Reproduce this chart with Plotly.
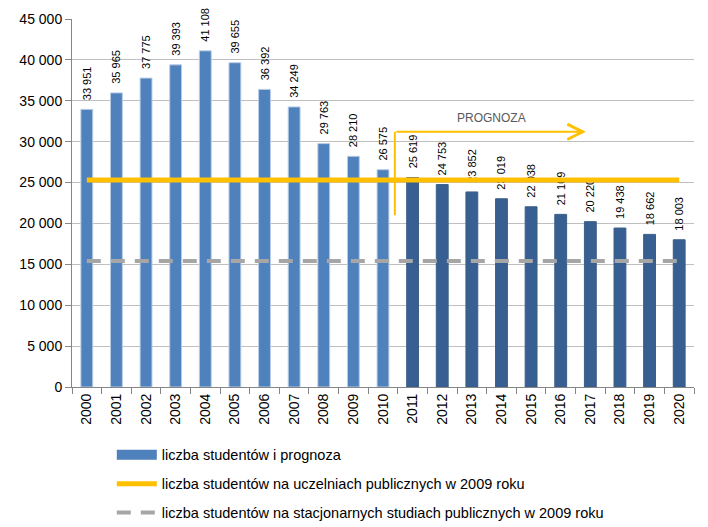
import plotly.graph_objects as go

years = [str(y) for y in range(2000, 2021)]
students = [33951, 35965, 37775, 39393, 41108, 39655, 36392, 34249, 29763, 28210,
            26575, 25619, 24753, 23852, 23019, 22038, 21109, 20220, 19438, 18662, 18003]
is_forecast = [False] * 11 + [True] * 10
public_2009 = [25300] * 21
fulltime_public_2009 = [15400] * 21

y_ticks = [0, 5000, 10000, 15000, 20000, 25000, 30000, 35000, 40000, 45000]

name_bars = "liczba studentów i prognoza"
name_public = "liczba studentów na uczelniach publicznych w 2009 roku"
name_fulltime = "liczba studentów na stacjonarnych studiach publicznych w 2009 roku"
forecast_label = "PROGNOZA"

LIGHT = "#4F81BD"
DARK = "#375F91"
NBSP = "\u00a0"

def fmt(v):
    return f"{v:,}".replace(",", " ")

bar_colors = [DARK if f else LIGHT for f in is_forecast]
bar_line = ["#3B5E88" if f else "#B9CDE5" for f in is_forecast]

fig = go.Figure()
fig.add_trace(go.Bar(
    x=years, y=students, name=name_bars, legendgroup="a", showlegend=False,
    marker=dict(color=bar_colors, line=dict(color=bar_line, width=1)),
    width=0.4,
    text=[NBSP * 2 + fmt(v) for v in students], textposition="outside", textangle=-90,
    constraintext="none",
    textfont=dict(family="Liberation Sans, Arial, sans-serif", size=11, color="#000000"),
    cliponaxis=False, hoverinfo="x+y",
))
# legend entry for the bars, drawn as a wide block like the original
fig.add_trace(go.Scatter(
    x=[None], y=[None], name=name_bars, legendgroup="a", mode="lines",
    line=dict(color=LIGHT, width=12), hoverinfo="skip",
))
fig.add_trace(go.Scatter(
    x=years, y=public_2009, name=name_public, legendgroup="b", mode="lines",
    line=dict(color="#FFC000", width=5),
))
fig.add_trace(go.Scatter(
    x=years, y=fulltime_public_2009, name=name_fulltime, legendgroup="c", mode="lines",
    line=dict(color="#A6A6A6", width=4, dash="14px,10px"),
))

# PROGNOZA arrow
fig.add_shape(type="line", xref="x", yref="y", x0=10.4, x1=10.4, y0=21000, y1=31200,
              line=dict(color="#FFC000", width=2))
fig.add_annotation(x=16.85, y=31200, ax=10.4, ay=31200, xref="x", yref="y",
                   axref="x", ayref="y", showarrow=True, arrowhead=5, arrowsize=1.5,
                   arrowwidth=2, arrowcolor="#FFC000", text="")
fig.add_annotation(x=13.65, y=32900, xref="x", yref="y", text=forecast_label, showarrow=False,
                   font=dict(family="Liberation Sans, Arial, sans-serif", size=12, color="#595959"))

# the page body has an 8px margin, so the figure is 8px smaller than the window
fig.update_layout(
    width=700, height=519,
    margin=dict(l=64, r=14, t=11, b=140, autoexpand=False),
    paper_bgcolor="white", plot_bgcolor="white",
    separators=". ",
    font=dict(family="Liberation Sans, Arial, sans-serif", size=14, color="#000000"),
    showlegend=True,
    legend=dict(
        orientation="v", x=0.064, xanchor="left", y=-0.141, yanchor="top",
        font=dict(family="Liberation Sans, Arial, sans-serif", size=14.5, color="#000000"),
        tracegroupgap=7, itemwidth=40, bgcolor="rgba(0,0,0,0)",
    ),
)
fig.update_xaxes(
    type="category", tickangle=-90, showline=True, linecolor="#868686", linewidth=1,
    ticks="outside", tickson="boundaries", ticklen=6, tickcolor="#868686",
    tickfont=dict(size=14, color="#000000"), showgrid=False, automargin=False,
)
fig.update_yaxes(
    range=[0, 45000], tickvals=y_ticks, ticktext=[fmt(v) for v in y_ticks],
    showline=True, linecolor="#868686", linewidth=1,
    ticks="outside", ticklen=6, tickcolor="#868686",
    showgrid=True, gridcolor="#BFBFBF", gridwidth=1, zeroline=False,
    tickfont=dict(size=14, color="#000000"), automargin=False,
)

fig.write_html("out.html")
